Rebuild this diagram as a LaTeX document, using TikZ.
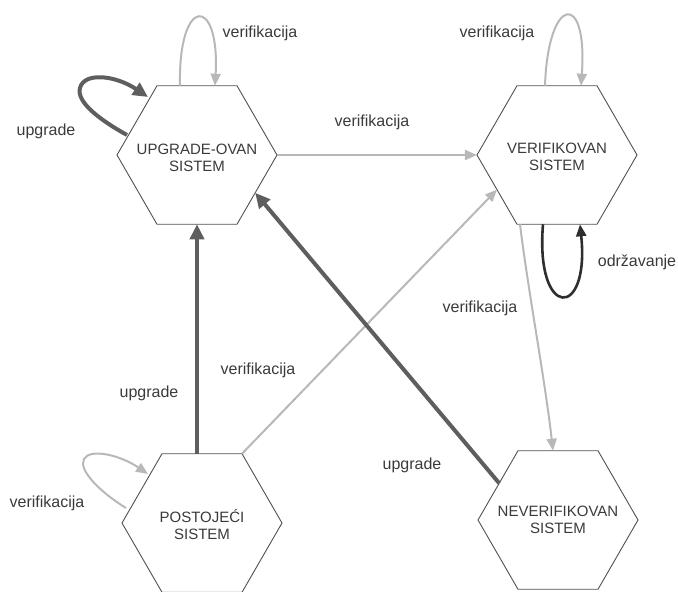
\documentclass[tikz,border=0pt]{standalone}
\usepackage{fontspec}
\setmainfont{Liberation Sans}
\usetikzlibrary{shapes.geometric,arrows.meta,calc}
\definecolor{lightarr}{HTML}{B8B8B8}
\definecolor{darkarr}{HTML}{5E5E5E}
\definecolor{blackarr}{HTML}{2E2E2E}
\definecolor{txt}{HTML}{3A3A3A}
\definecolor{hexline}{HTML}{505050}
\begin{document}
\begin{tikzpicture}[x=1pt,y=-1pt,
  hexnode/.style={regular polygon, regular polygon sides=6, minimum size=160pt,
    inner sep=0pt, outer sep=0pt, draw=hexline, line width=0.9pt},
  hextext/.style={align=center, font=\fontsize{15}{17}\selectfont, text=txt, inner sep=0pt},
  lbl/.style={font=\fontsize{16}{18}\selectfont, text=txt, inner sep=0pt},
  lightedge/.style={draw=lightarr, line width=2pt, -{Triangle[length=12pt,width=10pt]}},
  darkedge/.style={draw=darkarr, line width=4pt, -{Triangle[length=15pt,width=14pt]}},
  blackedge/.style={draw=blackarr, line width=2.6pt, -{Triangle[length=12pt,width=10pt]}}
]
\useasboundingbox (0,0) rectangle (678,592);

\node[hexnode] (U) at (197,155) {};
\node[hexnode] (V) at (557,155) {};
\node[hexnode] (P) at (202,523) {};
\node[hexnode] (N) at (558,520) {};
\node[hextext] (Ut) at (197,158) {UPGRADE-OVAN\\SISTEM};
\node[hextext] (Vt) at (557,157) {VERIFIKOVAN\\SISTEM};
\node[hextext] (Pt) at (202,525) {POSTOJEĆI\\SISTEM};
\node[hextext] (Nt) at (558,520) {NEVERIFIKOVAN\\SISTEM};

% loop end points
\coordinate (u1) at (127,135);
\coordinate (u2) at (148,97);
\coordinate (u3) at ($(U.north)+(-17,0)$);
\coordinate (u4) at ($(U.north)+(18,0)$);
\coordinate (v1) at ($(V.north)+(-12,0)$);
\coordinate (v2) at ($(V.north)+(24,0)$);
\coordinate (v3) at ($(V.south)+(-14,0)$);
\coordinate (v4) at ($(V.south)+(23,0)$);
\coordinate (v5) at ($(V.south)+(-37,0)$);
\coordinate (n1) at ($(N.north)+(-5,0)$);
\coordinate (p1) at (126,508);
\coordinate (p2) at (148,474);

% self loops
\draw[darkedge] (u1) .. controls (100,120) and (76,102) .. (80,88)
   .. controls (84,72) and (115,75) .. (u2);
\draw[lightedge] (u3) .. controls (178,-5) and (220,-5) .. (u4);
\draw[lightedge] (v1) .. controls (548,-5) and (588,-10) .. (v2);
\draw[blackedge] (v3) .. controls (535,320) and (590,320) .. (v4);
\draw[lightedge] (p1) .. controls (100,492) and (78,470) .. (84,459)
   .. controls (90,448) and (120,455) .. (p2);

% transitions
\draw[lightedge] (U.east) -- (V.west);
\draw[lightedge] (v5) .. controls (528,290) and (545,380) .. (n1);
\draw[darkedge] (U.south |- P.north) -- (U.south);
\draw[lightedge] (P.60) -- (V.210);
\draw[darkedge] (N.148) -- (U.-33);

% labels
\node[lbl] (l1) at (46,131) {upgrade};
\node[lbl] (l2) at (260,33) {verifikacija};
\node[lbl] (l3) at (372,122) {verifikacija};
\node[lbl] (l4) at (497,33) {verifikacija};
\node[lbl] (l5) at (637,262) {održavanje};
\node[lbl] (l6) at (480,308) {verifikacija};
\node[lbl] (l7) at (149,393) {upgrade};
\node[lbl] (l8) at (258,370) {verifikacija};
\node[lbl] (l9) at (412,465) {upgrade};
\node[lbl] (l10) at (47,503) {verifikacija};
\end{tikzpicture}
\end{document}
